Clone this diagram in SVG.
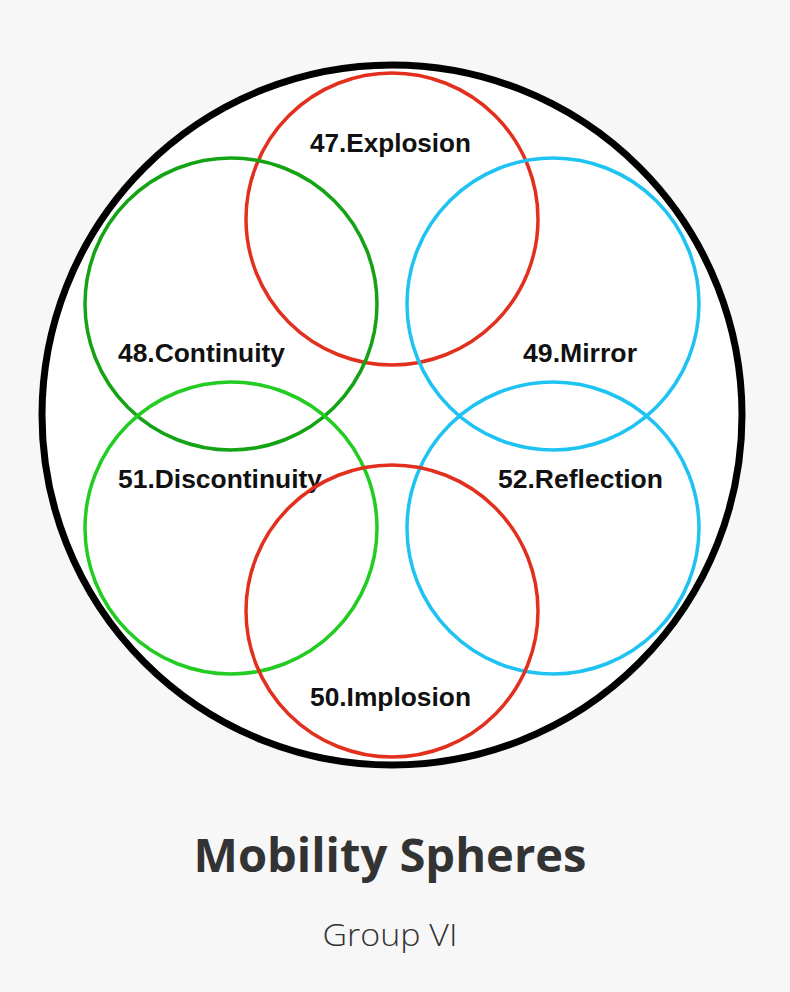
<svg xmlns="http://www.w3.org/2000/svg" width="790" height="992" viewBox="0 0 790 992">
<style>
.ring{fill:none;stroke-width:3.5}
.red{stroke:#e2301f}
.dgreen{stroke:#14a314}
.lgreen{stroke:#22cc22}
.blue{stroke:#1ec3f2}
.lbl{font-family:"Liberation Sans",Arial,sans-serif;font-weight:700;font-size:25px;fill:#111;text-anchor:middle}
.title{font-family:"Open Sans","Liberation Sans",sans-serif;font-weight:700;font-size:46px;fill:#333;text-anchor:middle}
.sub{font-family:"Open Sans","Liberation Sans",sans-serif;font-weight:300;font-size:32px;fill:#333;text-anchor:middle}
</style>
<rect width="790" height="992" fill="#f7f7f7"/>
<g id="outer">
<circle cx="392" cy="415" r="350" fill="#fff" stroke="#000" stroke-width="7"/>
</g>
<g id="n47"><circle class="ring red" cx="392" cy="219" r="146"/><text class="lbl" x="390.5" y="152" textLength="161" lengthAdjust="spacingAndGlyphs">47.Explosion</text></g>
<g id="n48"><circle class="ring dgreen" cx="231" cy="304" r="146"/><text class="lbl" x="201.5" y="362" textLength="167" lengthAdjust="spacingAndGlyphs">48.Continuity</text></g>
<g id="n49"><circle class="ring blue" cx="553" cy="304" r="146"/><text class="lbl" x="580" y="362" textLength="114" lengthAdjust="spacingAndGlyphs">49.Mirror</text></g>
<g id="n51"><circle class="ring lgreen" cx="231" cy="528" r="146"/><text class="lbl" x="220" y="488" textLength="204" lengthAdjust="spacingAndGlyphs">51.Discontinuity</text></g>
<g id="n52"><circle class="ring blue" cx="553" cy="528" r="146"/><text class="lbl" x="580.5" y="488" textLength="165" lengthAdjust="spacingAndGlyphs">52.Reflection</text></g>
<g id="n50"><circle class="ring red" cx="392" cy="611" r="146"/><text class="lbl" x="390.5" y="706" textLength="161" lengthAdjust="spacingAndGlyphs">50.Implosion</text></g>
<g id="connectors"></g>
<g id="caption">
<text class="title" x="390" y="872" textLength="393" lengthAdjust="spacingAndGlyphs">Mobility Spheres</text>
<text class="sub" x="390" y="946" textLength="135" lengthAdjust="spacingAndGlyphs">Group VI</text>
</g>
</svg>
